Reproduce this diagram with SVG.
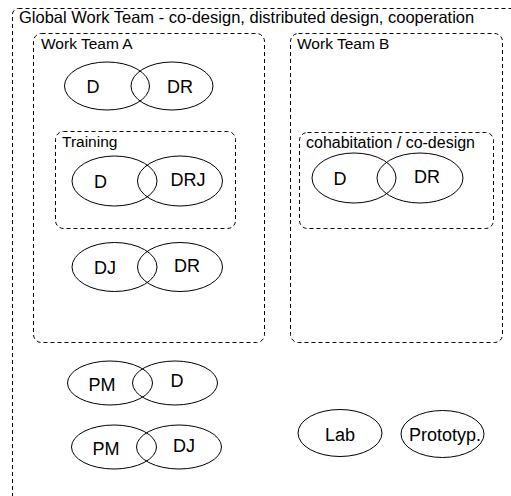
<svg xmlns="http://www.w3.org/2000/svg" width="511" height="496" viewBox="0 0 511 496">
  <style>
    .frame { fill: none; stroke: #000; stroke-width: 1; stroke-dasharray: 4 3; }
    .set { fill: none; stroke: #000; stroke-width: 1; }
    .title { font-family: "Liberation Sans", Arial, sans-serif; font-size: 16px; fill: #000; }
    .lbl { font-family: "Liberation Sans", Arial, sans-serif; font-size: 18px; fill: #000; text-anchor: middle; dominant-baseline: central; }
  </style>
  <rect width="511" height="496" fill="#fff"/>

  <!-- outer container -->
  <g id="global-team">
    <rect class="frame" x="12.5" y="8.5" width="540" height="520" rx="6"/>
    <text class="title" x="19" y="23" style="font-size:16.5px">Global Work Team - co-design, distributed design, cooperation</text>
  </g>

  <g id="work-team-a">
    <rect class="frame" x="33.5" y="33.5" width="231" height="309" rx="8"/>
    <text class="title" x="41" y="49" style="font-size:15.5px">Work Team A</text>
  </g>

  <g id="work-team-b">
    <rect class="frame" x="290.5" y="33.5" width="212" height="309" rx="8"/>
    <text class="title" x="297" y="49" style="font-size:15.5px">Work Team B</text>
  </g>

  <g id="training">
    <rect class="frame" x="55.5" y="131.5" width="180" height="97" rx="8"/>
    <text class="title" x="62" y="147" style="font-size:15.5px">Training</text>
  </g>

  <g id="cohabitation">
    <rect class="frame" x="299.5" y="132.5" width="194" height="96" rx="8"/>
    <text class="title" x="306" y="148">cohabitation / co-design</text>
  </g>

  <!-- overlapping role pairs -->
  <g id="a-d-dr">
    <ellipse class="set" cx="107" cy="86" rx="42.5" ry="24"/>
    <ellipse class="set" cx="172" cy="86" rx="41" ry="24"/>
    <text class="lbl" x="93" y="87">D</text>
    <text class="lbl" x="180" y="87">DR</text>
  </g>

  <g id="training-d-drj">
    <ellipse class="set" cx="114.5" cy="181" rx="42.5" ry="25"/>
    <ellipse class="set" cx="180" cy="181" rx="42.5" ry="25"/>
    <text class="lbl" x="100.5" y="182">D</text>
    <text class="lbl" x="188" y="180">DRJ</text>
  </g>

  <g id="a-dj-dr">
    <ellipse class="set" cx="114.5" cy="267" rx="42.5" ry="24.5"/>
    <ellipse class="set" cx="180" cy="267" rx="42.5" ry="24.5"/>
    <text class="lbl" x="105" y="268">DJ</text>
    <text class="lbl" x="187" y="266">DR</text>
  </g>

  <g id="b-d-dr">
    <ellipse class="set" cx="354" cy="178" rx="42" ry="25"/>
    <ellipse class="set" cx="420" cy="178" rx="43" ry="25"/>
    <text class="lbl" x="340" y="179">D</text>
    <text class="lbl" x="427" y="177">DR</text>
  </g>

  <g id="pm-d">
    <ellipse class="set" cx="110" cy="383" rx="42.5" ry="22"/>
    <ellipse class="set" cx="175" cy="383" rx="42.5" ry="22"/>
    <text class="lbl" x="102" y="385">PM</text>
    <text class="lbl" x="177" y="381">D</text>
  </g>

  <g id="pm-dj">
    <ellipse class="set" cx="114" cy="447" rx="42.5" ry="22"/>
    <ellipse class="set" cx="179" cy="447" rx="42.5" ry="22"/>
    <text class="lbl" x="106" y="449">PM</text>
    <text class="lbl" x="184" y="446">DJ</text>
  </g>

  <g id="lab">
    <ellipse class="set" cx="340" cy="433" rx="42" ry="23.5"/>
    <text class="lbl" x="340" y="435">Lab</text>
  </g>

  <g id="prototyp">
    <ellipse class="set" cx="442.5" cy="434" rx="41.5" ry="23.5"/>
    <text class="lbl" x="445" y="435">Prototyp.</text>
  </g>

  <g id="connectors"/>
</svg>
